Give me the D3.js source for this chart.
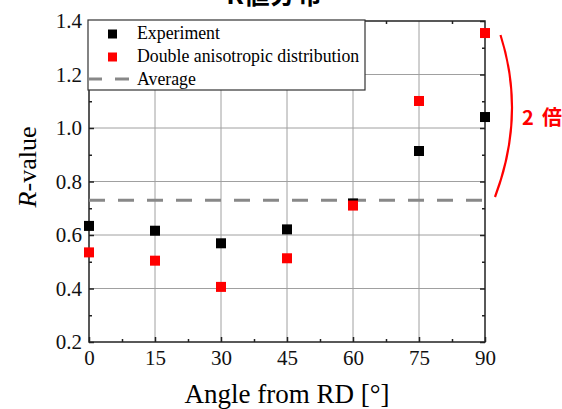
<!DOCTYPE html>
<html>
<head>
<meta charset="utf-8">
<script src="https://cdn.jsdelivr.net/npm/d3@7"></script>
<style>
  body { margin: 0; background: #fff; }
  svg { display: block; }
</style>
</head>
<body>
<svg id="chart" width="562" height="409"></svg>
<script>
// data
const angles = [0, 15, 30, 45, 60, 75, 90];
const experiment = [0.634, 0.616, 0.569, 0.621, 0.718, 0.914, 1.041];
const doubleAniso = [0.535, 0.504, 0.406, 0.513, 0.71, 1.101, 1.355];
const average = 0.73;
const xTicks = [0, 15, 30, 45, 60, 75, 90];
const yTicks = [0.2, 0.4, 0.6, 0.8, 1.0, 1.2, 1.4];

const svg = d3.select("#chart");
const plotL = 89, plotR = 485, plotT = 21, plotB = 342;
const serif = "'Liberation Serif', 'Times New Roman', serif";

const x = d3.scaleLinear().domain([0, 90]).range([plotL, plotR]);
const y = d3.scaleLinear().domain([0.2, 1.4]).range([plotB, plotT]);

// title, mostly cut off at the top (as in the source image)
svg.append("text")
    .attr("x", 274).attr("y", 4)
    .attr("text-anchor", "middle")
    .style("font-family", "'Noto Sans CJK JP', sans-serif")
    .style("font-weight", "bold")
    .style("font-size", "26px")
    .text("R値分布");

// grid
svg.append("g").selectAll("line")
    .data(xTicks.slice(1, -1))
    .enter().append("line")
    .attr("x1", d => x(d)).attr("x2", d => x(d))
    .attr("y1", plotT).attr("y2", plotB)
    .attr("stroke", "#a0a0a0").attr("stroke-width", 1);

svg.append("g").selectAll("line")
    .data(yTicks.slice(1, -1))
    .enter().append("line")
    .attr("x1", plotL).attr("x2", plotR)
    .attr("y1", d => y(d)).attr("y2", d => y(d))
    .attr("stroke", "#a0a0a0").attr("stroke-width", 1);

// axes with inward ticks
const minorX = d3.range(7.5, 90, 15);
const minorY = d3.range(0.3, 1.4, 0.2);

function styleAxis(g) {
    g.select(".domain").remove();
    g.selectAll("line").attr("stroke", "#222").attr("stroke-width", 1.5);
    g.selectAll("text")
        .style("font-family", serif)
        .style("font-size", "21px")
        .attr("fill", "#111");
}

svg.append("g")
    .attr("transform", `translate(0,${plotB})`)
    .call(d3.axisBottom(x).tickValues(xTicks).tickSize(-5).tickPadding(8).tickFormat(d3.format("d")))
    .call(styleAxis);
svg.append("g")
    .attr("transform", `translate(0,${plotB})`)
    .call(d3.axisBottom(x).tickValues(minorX).tickSize(-3).tickFormat(""))
    .call(styleAxis);
svg.append("g")
    .attr("transform", `translate(0,${plotT})`)
    .call(d3.axisTop(x).tickValues(minorX).tickSize(-3).tickFormat(""))
    .call(styleAxis);

svg.append("g")
    .attr("transform", `translate(${plotL},0)`)
    .call(d3.axisLeft(y).tickValues(yTicks).tickSize(-5).tickPadding(7).tickFormat(d3.format(".1f")))
    .call(styleAxis);
svg.append("g")
    .attr("transform", `translate(${plotL},0)`)
    .call(d3.axisLeft(y).tickValues(minorY).tickSize(-3).tickFormat(""))
    .call(styleAxis);
svg.append("g")
    .attr("transform", `translate(${plotR},0)`)
    .call(d3.axisRight(y).tickValues(yTicks).tickSize(-5).tickFormat(""))
    .call(styleAxis);
svg.append("g")
    .attr("transform", `translate(${plotR},0)`)
    .call(d3.axisRight(y).tickValues(minorY).tickSize(-3).tickFormat(""))
    .call(styleAxis);

// frame
svg.append("rect")
    .attr("x", plotL).attr("y", plotT)
    .attr("width", plotR - plotL).attr("height", plotB - plotT)
    .attr("fill", "none").attr("stroke", "#222").attr("stroke-width", 1.5);

// average line
svg.append("line")
    .attr("x1", plotL).attr("x2", plotR)
    .attr("y1", y(average)).attr("y2", y(average))
    .attr("stroke", "#888").attr("stroke-width", 3)
    .attr("stroke-dasharray", "16,13");

// markers
const sq = 10;
svg.append("g").selectAll("rect")
    .data(angles.map((a, i) => ({ a, v: experiment[i] })))
    .enter().append("rect")
    .attr("x", d => x(d.a) - sq / 2).attr("y", d => y(d.v) - sq / 2)
    .attr("width", sq).attr("height", sq)
    .attr("fill", "#000");

svg.append("g").selectAll("rect")
    .data(angles.map((a, i) => ({ a, v: doubleAniso[i] })))
    .enter().append("rect")
    .attr("x", d => x(d.a) - sq / 2).attr("y", d => y(d.v) - sq / 2)
    .attr("width", sq).attr("height", sq)
    .attr("fill", "#ff0000");

// legend
const legend = svg.append("g");
legend.append("rect")
    .attr("x", 88).attr("y", 20).attr("width", 277).attr("height", 70)
    .attr("fill", "#fff").attr("stroke", "#333").attr("stroke-width", 1.2);

const legendItems = [
    { label: "Experiment", color: "#000", y: 34 },
    { label: "Double anisotropic distribution", color: "#ff0000", y: 57 }
];
legendItems.forEach(it => {
    legend.append("rect")
        .attr("x", 108).attr("y", it.y - 4.5).attr("width", 9).attr("height", 9)
        .attr("fill", it.color);
    legend.append("text")
        .attr("x", 137).attr("y", it.y + 5)
        .style("font-family", serif).style("font-size", "17.8px")
        .text(it.label);
});
legend.append("line")
    .attr("x1", 88).attr("x2", 133).attr("y1", 79).attr("y2", 79)
    .attr("stroke", "#888").attr("stroke-width", 3)
    .attr("stroke-dasharray", "14,13");
legend.append("text")
    .attr("x", 137).attr("y", 85)
    .style("font-family", serif).style("font-size", "17.8px")
    .text("Average");

// axis titles
svg.append("text")
    .attr("x", 287).attr("y", 403)
    .attr("text-anchor", "middle")
    .style("font-family", serif).style("font-size", "27px")
    .text("Angle from RD [°]");

const yl = svg.append("text")
    .attr("transform", "translate(36,167) rotate(-90)")
    .attr("text-anchor", "middle")
    .style("font-family", serif).style("font-size", "26px");
yl.append("tspan").style("font-style", "italic").text("R");
yl.append("tspan").text("-value");

// bracket and annotation
svg.append("path")
    .attr("d", "M500.5,35 Q526,115 495,197")
    .attr("fill", "none").attr("stroke", "#ff0000").attr("stroke-width", 2.2);
const note = svg.append("text")
    .attr("y", 125)
    .attr("fill", "#ff0000")
    .style("font-family", "'Noto Sans CJK JP', sans-serif")
    .style("font-weight", "bold").style("font-size", "20px");
note.append("tspan").attr("x", 522).text("2");
note.append("tspan").attr("x", 542).text("倍");
</script>
</body>
</html>
